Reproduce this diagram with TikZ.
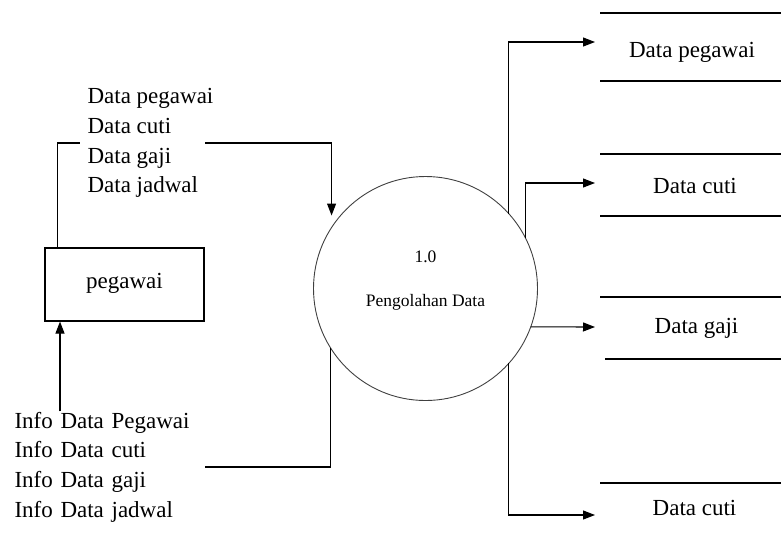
\documentclass[tikz,border=0pt]{standalone}
\usepackage{fontspec}
\setmainfont{Liberation Serif}
\usetikzlibrary{arrows.meta,calc}

\begin{document}
\begin{tikzpicture}[x=1pt, y=-1pt, line width=1.1pt,
    flow/.style={-{Triangle[length=12pt,width=9pt]}},
    entity/.style={draw, minimum width=159pt, minimum height=73pt, font=\fontsize{23}{28}\selectfont},
    process/.style={draw=black!75, circle, minimum size=224pt, inner sep=0pt, outer sep=0pt, line width=0.9pt},
    proclabel/.style={font=\fontsize{17.5}{20}\selectfont, text height=11.5pt, text depth=3.8pt},
    flowlabel/.style={align=left, inner xsep=7pt, inner ysep=0pt, font=\fontsize{23}{29.7}\selectfont},
    storelabel/.style={font=\fontsize{23}{28}\selectfont, text height=16pt, text depth=5pt},
    storeline/.style={line width=1.4pt}]
    \useasboundingbox (0,0) rectangle (781,539);
    % entity and process
    \node[entity] (peg) at (124.5,284.5) {\raisebox{8pt}{pegawai}};
    \node[process] (proc) at (425.5,288.5) {};
    \node[proclabel] (pnum) at (425.5,259) {1.0};
    \node[proclabel] (pname) at (425.5,303) {Pengolahan Data};
    % flow labels
    \node[flowlabel, anchor=west] (datain) at (80,143) {Data pegawai\\Data cuti\\Data gaji\\Data jadwal};
    \node[flowlabel, text width=183pt, anchor=west] (info) at (7,467) {Info Data Pegawai\\Info Data cuti\\Info Data gaji\\Info Data jadwal};
    % data stores
    \node[storelabel] (s1) at (692,52) {Data pegawai};
    \node[storelabel] (s2) at (695,188) {Data cuti};
    \node[storelabel] (s3) at (696.5,328) {Data gaji};
    \node[storelabel] (s4) at (694.5,510) {Data cuti};
    \draw[storeline] (600,13) -- (781,13) (600,81) -- (781,81);
    \draw[storeline] (600,154) -- (781,154) (600,216) -- (781,216);
    \draw[storeline] (600,297) -- (781,297) (605,359) -- (781,359);
    \draw[storeline] (600,483) -- (781,483);
    \coordinate (in1) at (595,42);
    \coordinate (in2) at (595,183);
    \coordinate (in3) at (595,327);
    \coordinate (in4) at (595,515);
    % flows
    \draw ([xshift=13pt]peg.north west) |- (datain.west);
    \draw[flow] (datain.west -| info.east) -| ([yshift=12pt]proc.147.6);
    \draw (proc.212.4) |- (info.east);
    \draw[flow] ([xshift=53pt]info.north west) -- ([xshift=53pt]info.north west |- peg.south);
    \draw[flow] (proc.42.5) |- (in1);
    \draw[flow] (proc.27.3) |- (in2);
    \draw[flow] (proc.-20.1) -- (in3);
    \draw[flow] (proc.-42.5) |- (in4);
\end{tikzpicture}
\end{document}
